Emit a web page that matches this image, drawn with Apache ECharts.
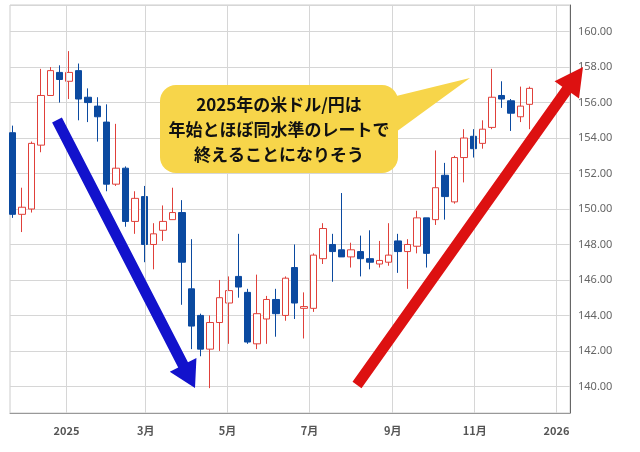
<!DOCTYPE html>
<html>
<head>
<meta charset="utf-8">
<script src="https://cdn.jsdelivr.net/npm/echarts@6/dist/echarts.min.js"></script>
<style>html,body{margin:0;padding:0;background:#fff}#main{width:640px;height:452px}</style>
</head>
<body>
<div id="main"></div>
<script>
// weekly USD/JPY candles: [open, close, low, high]
const dates = ['2024-11-22','2024-11-29','2024-12-06','2024-12-13','2024-12-20','2024-12-27',
  '2025-01-03','2025-01-10','2025-01-17','2025-01-24','2025-01-31','2025-02-07','2025-02-14',
  '2025-02-21','2025-02-28','2025-03-07','2025-03-14','2025-03-21','2025-03-28','2025-04-04',
  '2025-04-11','2025-04-18','2025-04-25','2025-05-02','2025-05-09','2025-05-16','2025-05-23',
  '2025-05-30','2025-06-06','2025-06-13','2025-06-20','2025-06-27','2025-07-04','2025-07-11',
  '2025-07-18','2025-07-25','2025-08-01','2025-08-08','2025-08-15','2025-08-22','2025-08-29',
  '2025-09-05','2025-09-12','2025-09-19','2025-09-26','2025-10-03','2025-10-10','2025-10-17',
  '2025-10-24','2025-10-31','2025-11-07','2025-11-14','2025-11-21','2025-11-28','2025-12-05',
  '2025-12-12']
const ohlc = [
  [154.3,149.7,149.5,154.7],[149.7,150.1,148.7,151.2],[150.0,153.7,149.8,153.8],[153.6,156.4,153.2,157.9],
  [156.4,157.8,156.4,158.0],[157.7,157.3,156.0,158.1],[157.2,157.7,156.2,158.9],[157.8,156.2,155.0,158.2],
  [156.3,156.0,154.9,156.8],[155.8,155.2,153.8,156.3],[154.9,151.4,151.0,155.9],[151.4,152.3,151.3,154.8],
  [152.3,149.3,149.0,152.4],[149.3,150.6,148.6,151.0],[150.7,148.0,147.0,151.3],[148.0,148.6,146.6,149.2],
  [148.8,149.3,148.2,150.2],[149.4,149.8,149.4,151.2],[149.8,147.0,144.6,150.5],[145.5,143.4,142.1,148.3],
  [144.0,142.1,141.7,144.1],[142.1,143.6,139.9,144.0],[143.6,145.0,142.0,146.0],[144.7,145.4,142.4,146.2],
  [146.2,145.6,145.0,148.6],[145.3,142.5,142.4,145.5],[142.4,144.1,142.1,146.3],[143.8,144.9,142.4,145.1],
  [144.9,144.1,142.8,145.5],[144.0,146.1,143.7,146.2],[146.7,144.7,143.8,148.0],[144.4,144.5,142.7,145.3],
  [144.4,147.4,144.2,147.5],[147.2,148.9,146.9,149.2],[148.0,147.6,145.9,148.6],[147.7,147.3,147.3,150.9],
  [147.3,147.7,146.7,148.1],[147.6,147.2,146.2,148.5],[147.2,147.0,146.6,148.8],[146.9,147.1,146.7,148.2],
  [147.0,147.4,146.8,149.2],[148.2,147.6,146.4,148.6],[147.6,148.0,145.5,148.3],[147.9,149.5,147.5,149.9],
  [149.5,147.5,146.7,149.5],[149.4,151.2,149.1,153.3],[151.9,150.7,149.4,152.6],[150.4,152.9,150.3,153.0],
  [152.9,154.0,151.5,154.5],[154.1,153.4,152.9,154.5],[153.7,154.5,153.4,155.0],[154.6,156.3,154.5,157.9],
  [156.4,156.2,155.7,157.2],[156.1,155.4,154.4,156.2],[155.2,155.8,154.9,156.9],[155.9,156.8,154.5,156.9]
]
const tickDates = ['2025-01-01','2025-03-01','2025-05-01','2025-07-01','2025-09-01','2025-11-01','2026-01-01']
const tickLabels = ['2025','3月','5月','7月','9月','11月','2026']
const calloutLines = ['2025年の米ドル/円は', '年始とほぼ同水準のレートで', '終えることになりそう']

const chart = echarts.init(document.getElementById('main'))

const arrow = (x1, y1, x2, y2, w, hl, hw, color) => {
  const dx = x2 - x1, dy = y2 - y1, len = Math.hypot(dx, dy)
  const ux = dx / len, uy = dy / len, nx = -uy, ny = ux
  const bx = x2 - ux * hl, by = y2 - uy * hl
  return {
    type: 'polygon', z: 100,
    shape: { points: [
      [x1 + nx * w / 2, y1 + ny * w / 2], [bx + nx * w / 2, by + ny * w / 2],
      [bx + nx * hw / 2, by + ny * hw / 2], [x2, y2],
      [bx - nx * hw / 2, by - ny * hw / 2], [bx - nx * w / 2, by - ny * w / 2],
      [x1 - nx * w / 2, y1 - ny * w / 2]
    ] },
    style: { fill: color }
  }
}

const option = {
  animation: false,
  grid: { left: 10, right: 70, top: 5, bottom: 39, show: true, borderColor: '#ccc' },
  xAxis: {
    type: 'time',
    min: '2024-11-20',
    max: '2026-01-11',
    axisLabel: { show: false },
    axisTick: { show: false },
    splitLine: { show: false },
    axisLine: { lineStyle: { color: '#999' } }
  },
  yAxis: {
    type: 'value',
    position: 'right',
    min: 138.5,
    max: 161.5,
    splitNumber: 12,
    axisLine: { show: true, lineStyle: { color: '#666' } },
    axisTick: { show: false },
    axisLabel: {
      color: '#666', fontSize: 11, fontFamily: 'Noto Sans',
      formatter: v => (Math.abs(v - Math.round(v)) < 1e-6 && Math.round(v) % 2 === 0) ? v.toFixed(2) : ''
    },
    splitLine: { lineStyle: { color: '#d6d6d6' } }
  },
  series: [{
    type: 'candlestick',
    barWidth: 7,
    data: dates.map((d, i) => [d, ...ohlc[i]]),
    encode: { x: 0, y: [1, 2, 3, 4] },
    itemStyle: {
      color: '#ffffff', borderColor: '#e0403a',
      color0: '#0b4aa0', borderColor0: '#0b4aa0', borderWidth: 1
    },
    markLine: {
      silent: true, symbol: 'none',
      lineStyle: { color: '#d6d6d6', type: 'solid', width: 1 },
      label: { position: 'start', distance: 12, color: '#555', fontSize: 11, fontWeight: 'bold',
        fontFamily: 'Noto Sans CJK JP', formatter: p => p.name },
      data: tickDates.map((d, i) => ({ xAxis: d, name: tickLabels[i] }))
    }
  }],
  graphic: [
    arrow(57, 120, 195, 388, 11, 26, 30, '#1212cc'),
    arrow(357, 385, 583, 67, 11, 28, 30, '#dd1111'),
    { type: 'polygon', z: 101, shape: { points: [[380, 100], [470, 78], [385, 140]] }, style: { fill: '#f7d54a' } },
    { type: 'rect', z: 102, shape: { x: 160, y: 85, width: 238, height: 88, r: 16 }, style: { fill: '#f7d54a' } },
    ...calloutLines.map((t, i) => ({
      type: 'text', z: 103, x: 279, y: 105 + i * 25,
      style: { text: t, fill: '#111', font: 'bold 17px "Noto Sans CJK JP"', textAlign: 'center', textVerticalAlign: 'middle' }
    }))
  ]
}
chart.setOption(option)
</script>
</body>
</html>
